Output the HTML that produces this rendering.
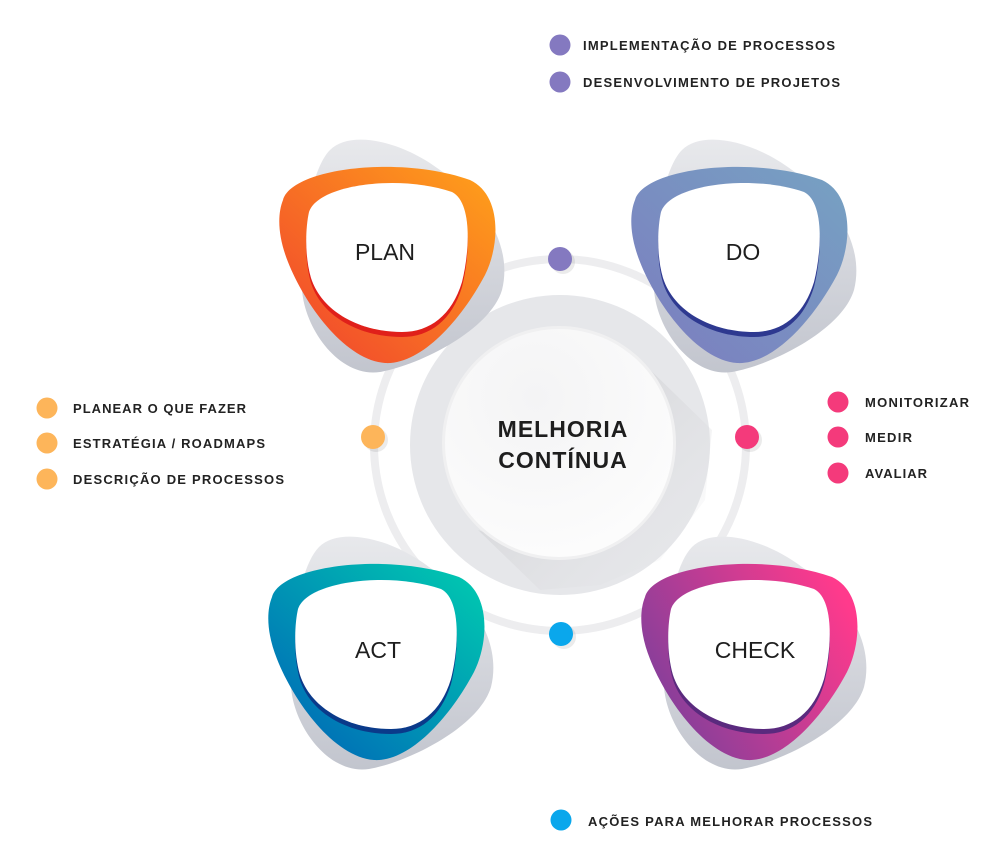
<!DOCTYPE html>
<html><head><meta charset="utf-8"><style>
html,body{margin:0;padding:0;background:#fff;width:1000px;height:864px;overflow:hidden}
svg{display:block}
.l{font-family:"Liberation Sans",sans-serif;font-weight:bold;font-size:13px;fill:#222}
.b{font-family:"Liberation Sans",sans-serif;font-size:23px;fill:#1e1e1e}
</style></head><body>
<svg width="1000" height="864" viewBox="0 0 1000 864" xmlns="http://www.w3.org/2000/svg">
<defs>
<linearGradient id="gs" x1="0" y1="0" x2="0" y2="1"><stop offset="0" stop-color="#e8e9ec"/><stop offset="1" stop-color="#c2c5ce"/></linearGradient>
<linearGradient id="gp" x1="1" y1="0" x2="0" y2="1"><stop offset="0" stop-color="#ffa21a"/><stop offset="1" stop-color="#f0402e"/></linearGradient>
<linearGradient id="gd" x1="1" y1="0" x2="0" y2="1"><stop offset="0" stop-color="#76a2c2"/><stop offset="1" stop-color="#7c7cc0"/></linearGradient>
<linearGradient id="ga" x1="1" y1="0" x2="0" y2="1"><stop offset="0" stop-color="#00cdb0"/><stop offset="1" stop-color="#0060b8"/></linearGradient>
<linearGradient id="gc" x1="1" y1="0.3" x2="0" y2="0.8"><stop offset="0" stop-color="#ff3a8c"/><stop offset="1" stop-color="#773f9c"/></linearGradient>
<linearGradient id="lsh" x1="0" y1="0" x2="1" y2="1"><stop offset="0" stop-color="#c4c4c7"/><stop offset="1" stop-color="#e6e7ea" stop-opacity="0"/></linearGradient>
<radialGradient id="wc" cx="0.4" cy="0.3" r="0.8"><stop offset="0" stop-color="#f4f4f5"/><stop offset="1" stop-color="#fdfdfd"/></radialGradient>
<g id="shadow"><path d="M330,150 C350,130 400,140 440,170 C490,205 512,250 502,290 C490,330 420,365 380,372 C340,378 305,330 302,290 C300,240 310,170 330,150 Z" fill="url(#gs)"/></g>
<path id="outer" d="M283,200 C292,168 400,155 470,180 C502,195 500,245 485,275 C460,322 420,365 385,363 C345,360 305,305 288,262 C278,237 277,215 283,200 Z"/>
<path id="inner" d="M309,212 C318,184 400,174 452,192 C472,202 470,250 462,282 C452,315 430,332 402,332 C360,332 322,312 311,278 C305,258 305,230 309,212 Z"/>
</defs>

<circle cx="560" cy="445" r="186" fill="none" stroke="#ededef" stroke-width="8"/>
<circle cx="560" cy="445" r="150" fill="#e6e7ea"/>
<path d="M640,360 L712,430 L705,500 L660,560 L600,585 L540,590 L478,530 L560,560 Z" fill="url(#lsh)" opacity="0.9"/>
<circle cx="559" cy="443" r="117" fill="#f0f0f1"/>
<circle cx="559" cy="443" r="114" fill="url(#wc)"/>
<text x="563" y="437" text-anchor="middle" style="font-family:'Liberation Sans',sans-serif;font-weight:bold;font-size:23px;letter-spacing:1px;fill:#1e1e1e">MELHORIA</text>
<text x="563" y="468" text-anchor="middle" style="font-family:'Liberation Sans',sans-serif;font-weight:bold;font-size:23px;letter-spacing:1px;fill:#1e1e1e">CONTÍNUA</text>

<g>
<use href="#shadow"/>
<use href="#outer" fill="url(#gp)"/>
<use href="#inner" fill="#e0201a" transform="translate(0,5)"/>
<use href="#inner" fill="#fff"/>
<text class="b" x="385" y="260" text-anchor="middle">PLAN</text>
</g>
<g transform="translate(352,0)">
<use href="#shadow"/>
<use href="#outer" fill="url(#gd)"/>
<use href="#inner" fill="#2e3990" transform="translate(0,5)"/>
<use href="#inner" fill="#fff"/>
<text class="b" x="391" y="260" text-anchor="middle">DO</text>
</g>
<g transform="translate(-11,397)">
<use href="#shadow"/>
<use href="#outer" fill="url(#ga)"/>
<use href="#inner" fill="#0a3a8a" transform="translate(0,5)"/>
<use href="#inner" fill="#fff"/>
<text class="b" x="389" y="261" text-anchor="middle">ACT</text>
</g>
<g transform="translate(362,397)">
<use href="#shadow"/>
<use href="#outer" fill="url(#gc)"/>
<use href="#inner" fill="#5a2a7e" transform="translate(0,5)"/>
<use href="#inner" fill="#fff"/>
<text class="b" x="393" y="261" text-anchor="middle">CHECK</text>
</g>

<g>
<circle cx="563" cy="262" r="12" fill="#000" opacity="0.08"/><circle cx="560" cy="259" r="12" fill="#8479c0"/>
<circle cx="376" cy="440" r="12" fill="#000" opacity="0.08"/><circle cx="373" cy="437" r="12" fill="#fdb55a"/>
<circle cx="750" cy="440" r="12" fill="#000" opacity="0.08"/><circle cx="747" cy="437" r="12" fill="#f43a7b"/>
<circle cx="564" cy="637" r="12" fill="#000" opacity="0.08"/><circle cx="561" cy="634" r="12" fill="#0aa7ec"/>
</g>

<g>
<circle cx="560" cy="45" r="10.5" fill="#8479c0"/><text class="l" x="583" y="50" textLength="252">IMPLEMENTAÇÃO DE PROCESSOS</text>
<circle cx="560" cy="82" r="10.5" fill="#8479c0"/><text class="l" x="583" y="87" textLength="257">DESENVOLVIMENTO DE PROJETOS</text>

<circle cx="47" cy="408" r="10.5" fill="#fdb55a"/><text class="l" x="73" y="413" textLength="173">PLANEAR O QUE FAZER</text>
<circle cx="47" cy="443" r="10.5" fill="#fdb55a"/><text class="l" x="73" y="448" textLength="192">ESTRATÉGIA / ROADMAPS</text>
<circle cx="47" cy="479" r="10.5" fill="#fdb55a"/><text class="l" x="73" y="484" textLength="211">DESCRIÇÃO DE PROCESSOS</text>

<circle cx="838" cy="402" r="10.5" fill="#f43a7b"/><text class="l" x="865" y="407" textLength="104">MONITORIZAR</text>
<circle cx="838" cy="437" r="10.5" fill="#f43a7b"/><text class="l" x="865" y="442" textLength="47">MEDIR</text>
<circle cx="838" cy="473" r="10.5" fill="#f43a7b"/><text class="l" x="865" y="478" textLength="62">AVALIAR</text>

<circle cx="561" cy="820" r="10.5" fill="#0aa7ec"/><text class="l" x="588" y="826" textLength="284">AÇÕES PARA MELHORAR PROCESSOS</text>
</g>
</svg>
</body></html>
